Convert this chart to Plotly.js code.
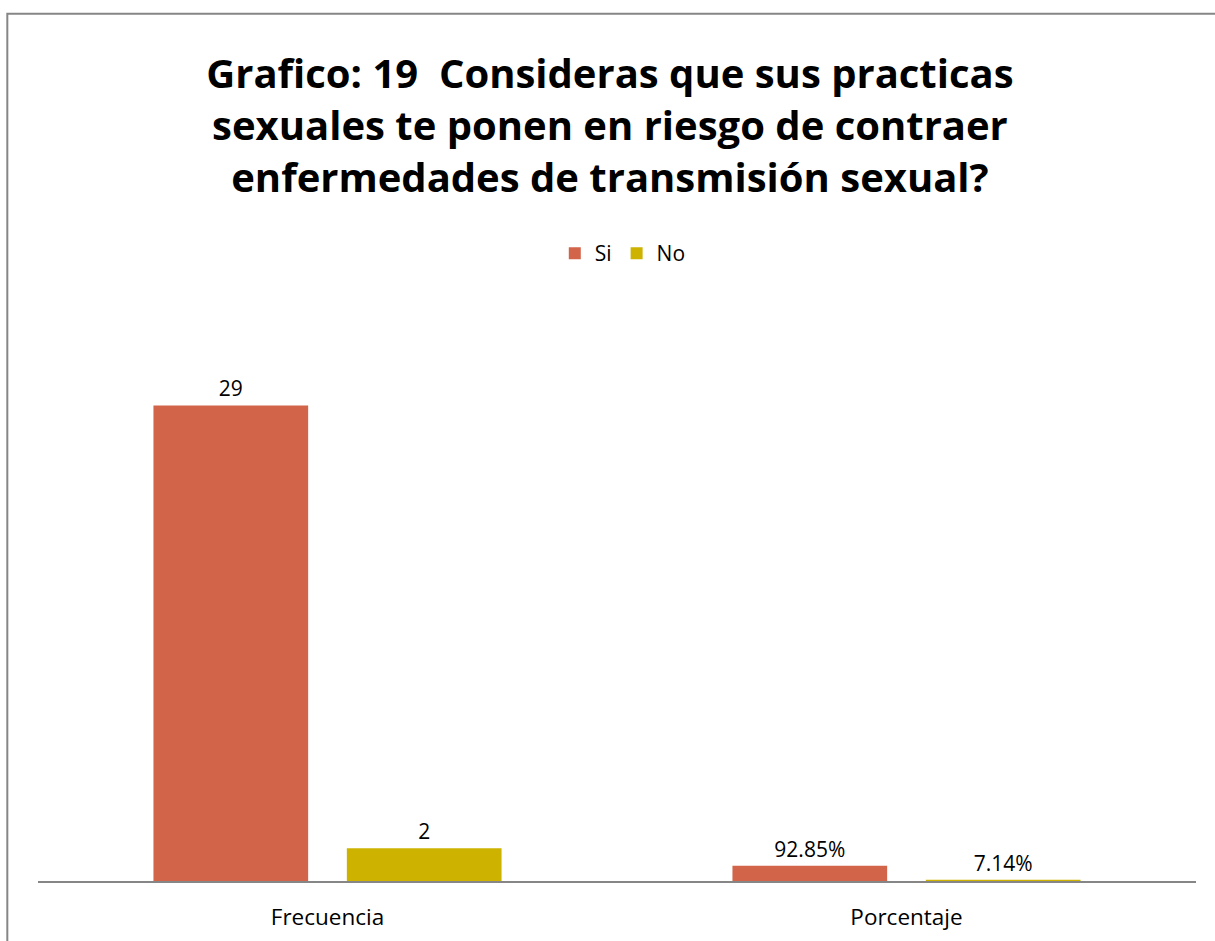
<!DOCTYPE html>
<html>
<head>
<meta charset="utf-8">
<script src="https://cdn.plot.ly/plotly-3.0.1.min.js"></script>
<style>html,body{margin:0;padding:0;background:#fff;}#chart{width:1215px;height:941px;}</style>
</head>
<body>
<div id="chart"></div>
<script>
var categories = ["Frecuencia", "Porcentaje"];
var seriesNames = ["Si", "No"];
var siValues = [29, 0.9285];
var noValues = [2, 0.0714];
var siLabels = ["29", "92.85%"];
var noLabels = ["2", "7.14%"];
var titleLines = ["Grafico: 19  Consideras que sus practicas", "sexuales te ponen en riesgo de contraer", "enfermedades de transmisión sexual?"];

var FONT = "Open Sans, Liberation Sans, sans-serif";
var traces = [
  {type: "bar", name: seriesNames[0], x: categories, y: siValues, text: siLabels,
   textposition: "outside", cliponaxis: false, hoverinfo: "none",
   marker: {color: "#D2644A"}, textfont: {size: 21, color: "#000", family: FONT}},
  {type: "bar", name: seriesNames[1], x: categories, y: noValues, text: noLabels,
   textposition: "outside", cliponaxis: false, hoverinfo: "none",
   marker: {color: "#CDB300"}, textfont: {size: 21, color: "#000", family: FONT}}
];

var layout = {
  width: 1215, height: 941,
  margin: {l: 38, r: 19, t: 306.5, b: 60},
  paper_bgcolor: "#fff", plot_bgcolor: "#fff",
  font: {family: FONT, color: "#000"},
  title: {text: titleLines.join("<br>"), x: 0.502, xanchor: "center", y: 0.907, yanchor: "top",
          yref: "container", font: {size: 40, family: FONT, color: "#000", weight: "bold"}},
  barmode: "group", bargap: 0.332, bargroupgap: 0.2,
  showlegend: true,
  legend: {orientation: "h", x: 0.505, xanchor: "center", y: 1.093, yanchor: "middle",
           font: {size: 21, family: FONT}, itemwidth: 30, tracegroupgap: 0},
  xaxis: {showline: true, linecolor: "#868686", linewidth: 2, ticks: "", showgrid: false,
          ticklabelstandoff: 15,
          tickfont: {size: 22.5, family: FONT, color: "#000"}, fixedrange: true},
  yaxis: {range: [0, 35], visible: false, showgrid: false, zeroline: false, fixedrange: true},
  shapes: [{type: "rect", xref: "paper", yref: "paper", x0: -0.0265, x1: 1.03, y0: -0.2, y1: 1.511,
            line: {color: "#868686", width: 2}, fillcolor: "rgba(0,0,0,0)", layer: "below"}]
};

Plotly.newPlot("chart", traces, layout, {displayModeBar: false, staticPlot: true});
</script>
</body>
</html>
